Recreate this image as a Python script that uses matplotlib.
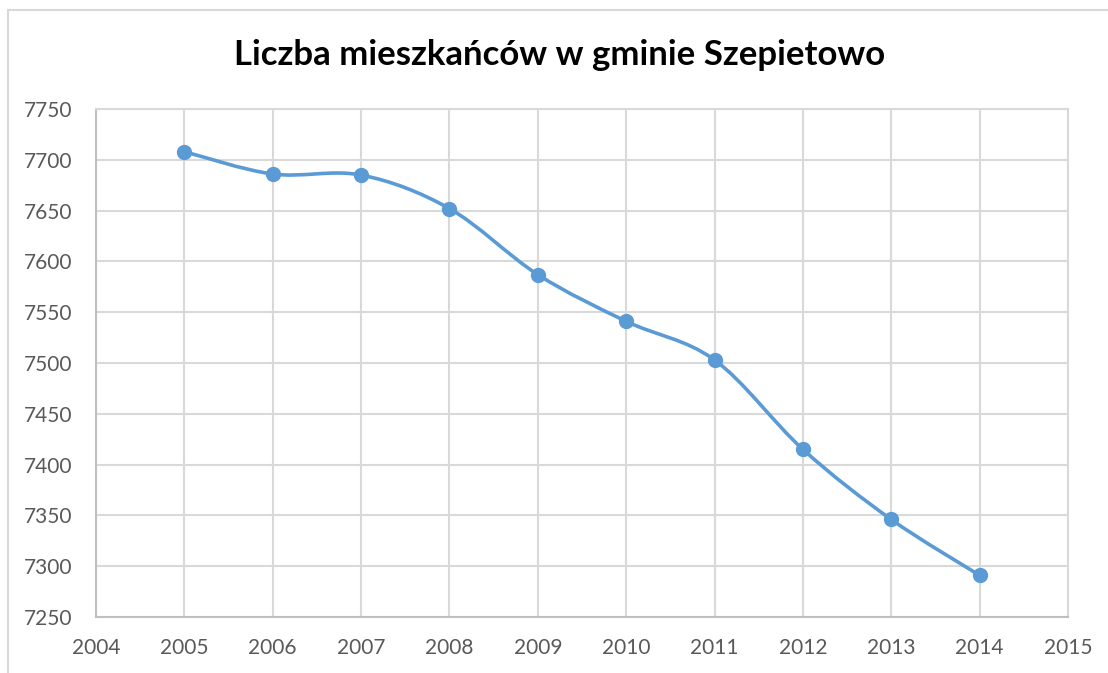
import numpy as np
import matplotlib.pyplot as plt
from matplotlib.path import Path
from matplotlib.patches import PathPatch
from matplotlib.lines import Line2D

# === Daten ===
lata = [2005, 2006, 2007, 2008, 2009, 2010, 2011, 2012, 2013, 2014]
mieszkancy = [7708, 7686, 7685, 7652, 7587, 7541, 7503, 7415, 7346, 7291]
tytul = "Liczba mieszkańców w gminie Szepietowo"
x_ticks = list(range(2004, 2016))
y_ticks = list(range(7250, 7751, 50))

kolor = "#5b9bd5"
szary = "#595959"

plt.rcParams['font.family'] = ['Lato', 'DejaVu Sans']

fig = plt.figure(figsize=(11.08, 6.73), dpi=100)
ax = fig.add_axes([96 / 1108, 1 - 617 / 673, (1068 - 96) / 1108, (617 - 109) / 673])

# Glatte Linie wie in Excel (Bezier durch die Punkte)
x = np.array(lata, dtype=float)
y = np.array(mieszkancy, dtype=float)
verts = [(x[0], y[0])]
codes = [Path.MOVETO]
n = len(x)
for i in range(n - 1):
    x0, y0 = (x[i - 1], y[i - 1]) if i > 0 else (x[i], y[i])
    x3, y3 = (x[i + 2], y[i + 2]) if i + 2 < n else (x[i + 1], y[i + 1])
    c1 = (x[i] + (x[i + 1] - x0) / 6, y[i] + (y[i + 1] - y0) / 6)
    c2 = (x[i + 1] - (x3 - x[i]) / 6, y[i + 1] - (y3 - y[i]) / 6)
    verts += [c1, c2, (x[i + 1], y[i + 1])]
    codes += [Path.CURVE4] * 3
ax.add_patch(PathPatch(Path(verts, codes), fill=False, edgecolor=kolor,
                       linewidth=2.6, capstyle='round', zorder=3))
ax.plot(lata, mieszkancy, linestyle='none', marker='o', markersize=10,
        color=kolor, zorder=4)

ax.set_xlim(2004, 2015)
ax.set_ylim(7250, 7750)
ax.set_xticks(x_ticks)
ax.set_yticks(y_ticks)
ax.grid(True, color="#d9d9d9", linewidth=1.5)
ax.set_axisbelow(True)
for s in ['top', 'right']:
    ax.spines[s].set_color("#d9d9d9")
    ax.spines[s].set_linewidth(1.5)
for s in ['left', 'bottom']:
    ax.spines[s].set_color("#bfbfbf")
    ax.spines[s].set_linewidth(1.5)
ax.tick_params(axis='both', length=0, labelsize=15, labelcolor=szary)
ax.tick_params(axis='y', pad=17)
ax.tick_params(axis='x', pad=15)

fig.text(560 / 1108, 1 - 55 / 673, tytul, ha='center', va='center',
         fontsize=25, fontweight='bold', color='black')

# Rahmen des Diagramms
fig.add_artist(Line2D([8 / 1108, 8 / 1108], [0, 1 - 10 / 673], transform=fig.transFigure,
                      color="#d9d9d9", linewidth=1.5))
fig.add_artist(Line2D([8 / 1108, 1], [1 - 10 / 673, 1 - 10 / 673], transform=fig.transFigure,
                      color="#d9d9d9", linewidth=1.5))

fig.savefig("out.png", dpi=100)
